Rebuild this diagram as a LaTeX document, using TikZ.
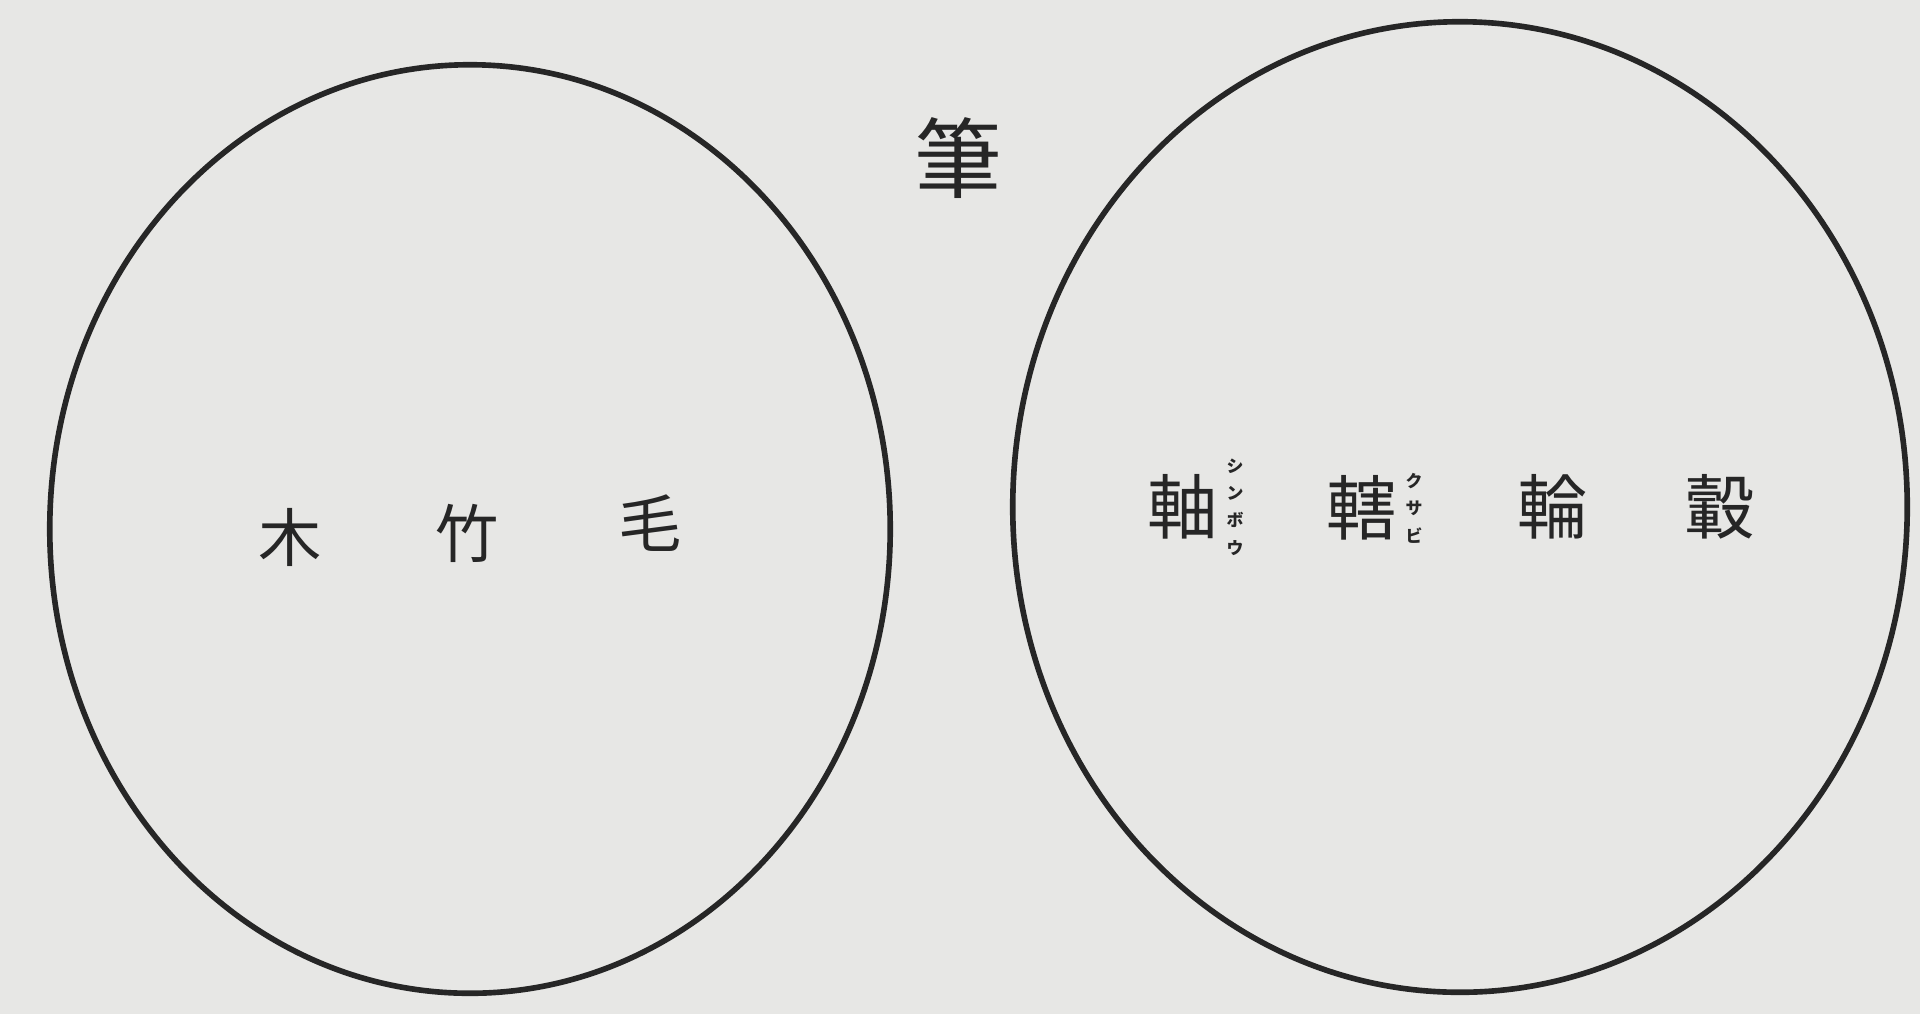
\documentclass[tikz,border=0pt]{standalone}
\usepackage{fontspec}
\usepackage{tikz}
\usetikzlibrary{shapes.geometric, positioning}
\newfontfamily\jpfont{Noto Sans CJK JP}
\definecolor{sheet}{HTML}{E7E7E5}
\definecolor{ink}{HTML}{262626}

\begin{document}
\begin{tikzpicture}[
    x=0.01cm, y=-0.01cm,
    ring/.style={ellipse, draw=ink, line width=1.6pt, inner sep=0pt},
    glyph/.style={inner sep=0pt, text=ink, font=\jpfont\fontsize{20}{20}\selectfont},
    small glyph/.style={glyph, font=\jpfont\fontsize{18}{18}\selectfont},
    ruby/.style={inner sep=0pt, text=ink, align=center, font=\jpfont\bfseries\fontsize{4.8}{7.8}\selectfont},
  ]
  \fill[sheet] (0,0) rectangle (1920,1014);
  \useasboundingbox (0,0) rectangle (1920,1014);

  % the two circles
  \node[ring, minimum width=8.4cm, minimum height=9.28cm] (brush) at (470,529) {};
  \node[ring, minimum width=8.94cm, minimum height=9.70cm] (wheel) at (1460,507) {};

  \node[glyph, font=\jpfont\fontsize{25}{25}\selectfont] (title) at (958,158) {筆};

  % left: parts of the brush
  \node[small glyph] (wood) at (290,537) {木};
  \node[small glyph] (bamboo) at (467,533) {竹};
  \node[small glyph] (hair) at (650,523) {毛};

  % right: parts of the wheel
  \node[glyph] (axle) at (1183,507) {軸};
  \node[ruby, right=2pt of axle] (axleruby) {シ\\ン\\ボ\\ウ};
  \node[glyph] (pin) at (1362,508) {轄};
  \node[ruby, right=2pt of pin] (pinruby) {ク\\サ\\ビ};
  \node[glyph] (rim) at (1553,507) {輪};
  \node[glyph] (hub) at (1720,507) {轂};
\end{tikzpicture}
\end{document}
